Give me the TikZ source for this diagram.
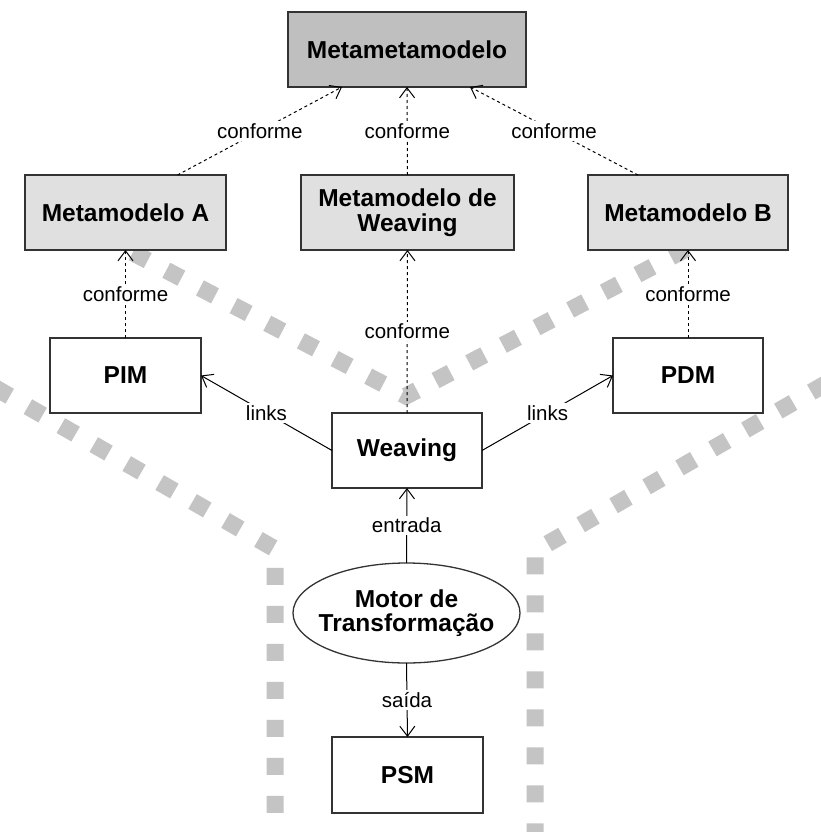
\documentclass[tikz,border=0pt]{standalone}
\usepackage{fontspec}
\setmainfont{Liberation Sans}
\usetikzlibrary{arrows.meta,shapes.geometric,calc}
\definecolor{boxline}{HTML}{333333}
\definecolor{metafill}{HTML}{BFBFBF}
\definecolor{mmfill}{HTML}{E0E0E0}
\definecolor{sepgray}{HTML}{C4C4C4}
\begin{document}
\begin{tikzpicture}[x=1pt,y=-1pt,
  every node/.style={inner sep=0pt,outer sep=0pt},
  boxtext/.style={align=center,font=\fontsize{24.5}{24.5}\selectfont\bfseries},
  box/.style={boxtext,draw=boxline,line width=1.3pt,fill=white},
  metabox/.style={box,fill=mmfill,minimum height=75pt},
  motor/.style={draw=boxline,line width=1.3pt,fill=white,ellipse,minimum width=227pt,minimum height=100pt},
  conn/.style={line width=1pt,-{Straight Barb[length=10pt,width=15pt]}},
  conf/.style={conn,dash pattern=on 3pt off 3pt},
  lbl/.style={fill=white,inner sep=2pt,font=\fontsize{20.5}{22}\selectfont},
  sepline/.style={draw=sepgray,line width=17pt,dash pattern=on 17pt off 21pt,line join=miter}]
\useasboundingbox (0,0) rectangle (821,832);
\fill[white] (0,0) rectangle (821,832);

% separators between the model spaces
\begin{scope}
\clip (0,0) rectangle (821,832);
\draw[sepline] (-5,387.7) -- (275,549) -- (275,845);
\draw[sepline] (826,383.6) -- (535,551) -- (535,845);
\draw[sepline] (99,235) -- (406,396) -- (713,235);
\end{scope}

% boxes
\node[box,fill=metafill,minimum width=238pt,minimum height=75pt] (mmm) at (407,49.5) {Metametamodelo};
\node[metabox,minimum width=201pt] (mma) at (125.5,212.5) {Metamodelo A};
\node[metabox,minimum width=213pt] (mmw) at (407.5,212.5) {Metamodelo de\\Weaving};
\node[metabox,minimum width=200pt] (mmb) at (688,212.5) {Metamodelo B};
\node[box,minimum width=151pt,minimum height=75pt] (pim) at (125.5,375.5) {PIM};
\node[box,minimum width=150pt,minimum height=75pt] (pdm) at (688,375.5) {PDM};
\node[box,minimum width=150pt,minimum height=75pt] (weav) at (407,450.5) {Weaving};
\node[motor] (mot) at (406.5,613) {};
\node[boxtext] (mottext) at (mot.center) {Motor de\\Transformação};
\node[box,minimum width=151pt,minimum height=76pt] (psm) at (407.5,775) {PSM};

% conformance relations
\draw[conf] ($(mma.north)+(52,0)$) -- node[lbl]{conforme} ($(mmm.south)+(-65,0)$);
\draw[conf] (mmw.north) -- node[lbl]{conforme} (mmm.south);
\draw[conf] ($(mmb.north)+(-50,0)$) -- node[lbl]{conforme} ($(mmm.south)+(63,0)$);
\draw[conf] (pim.north) -- node[lbl]{conforme} (mma.south);
\draw[conf] (weav.north) -- node[lbl]{conforme} (mmw.south);
\draw[conf] (pdm.north) -- node[lbl]{conforme} (mmb.south);

% weaving links and transformation
\draw[conn] (weav.west) -- node[lbl]{links} (pim.east);
\draw[conn] (weav.east) -- node[lbl]{links} (pdm.west);
\draw[conn] (mot.north) -- node[lbl]{entrada} (weav.south);
\draw[conn] (mot.south) -- node[lbl]{saída} (psm.north);
\end{tikzpicture}
\end{document}
